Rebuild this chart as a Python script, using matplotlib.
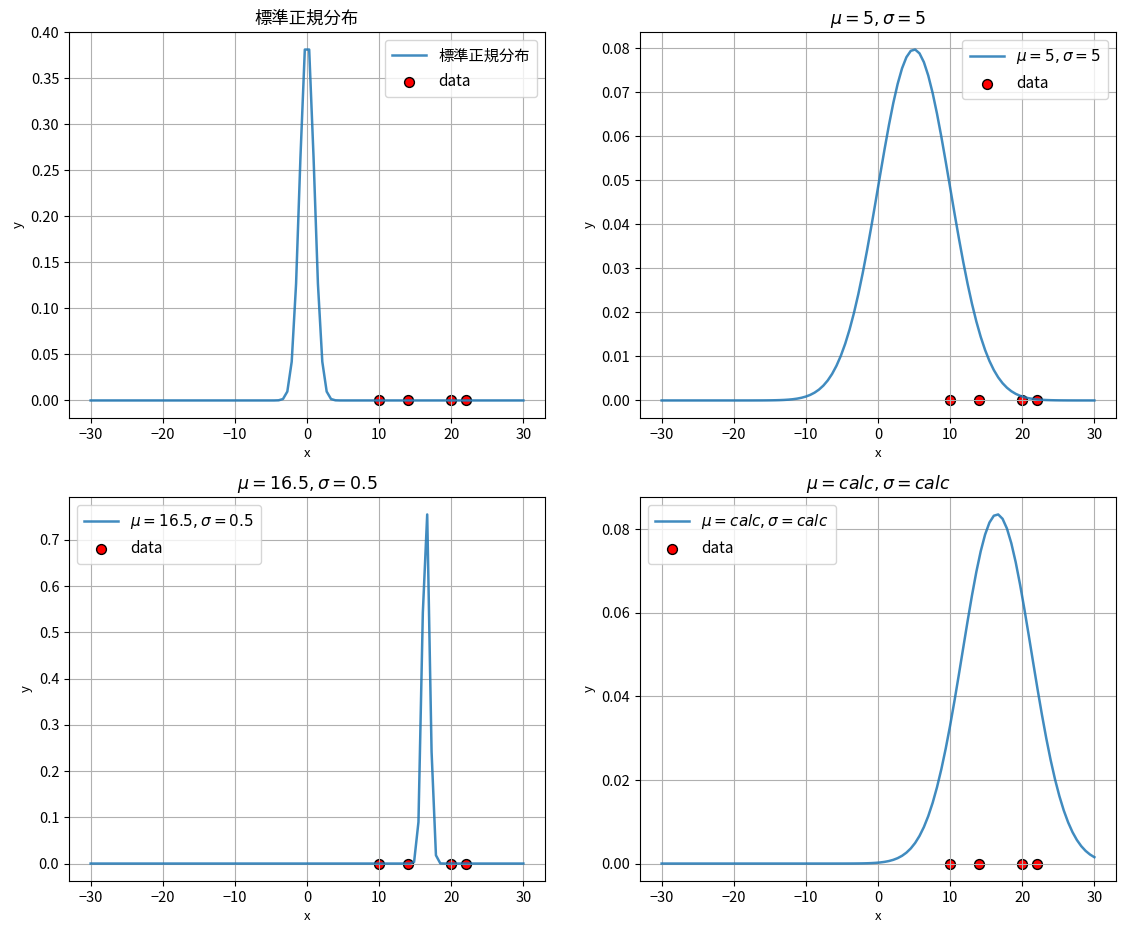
import numpy as np
import matplotlib
matplotlib.use("Agg")
import matplotlib.pyplot as plt

plt.rcParams['font.family'] = ['Noto Sans CJK JP', 'DejaVu Sans']
plt.rcParams['axes.unicode_minus'] = True

# data points
data_x = [10, 14, 20, 22]
data_y = [0, 0, 0, 0]

# distribution parameters per panel
titles = ['標準正規分布', r'$\mu=5,\sigma=5$', r'$\mu=16.5,\sigma=0.5$', r'$\mu=calc,\sigma=calc$']
mus = [0.0, 5.0, 16.5, float(np.mean(data_x))]
sigmas = [1.0, 5.0, 0.5, float(np.std(data_x))]

x = np.linspace(-30, 30, 100)

def pdf(x, mu, s):
    return np.exp(-(x - mu) ** 2 / (2 * s * s)) / (np.sqrt(2 * np.pi) * s)

fig = plt.figure(figsize=(11.26, 9.35), dpi=100)
W, H = 1126, 935
boxes = [(69, 32, 545, 418), (640, 32, 1116, 418), (69, 497, 545, 881), (640, 497, 1116, 881)]
locs = ['upper right', 'upper right', 'upper left', 'upper left']
yticks = [np.arange(0, 0.401, 0.05), np.arange(0, 0.081, 0.01), np.arange(0, 0.71, 0.1), np.arange(0, 0.081, 0.02)]
fmts = ['{:.2f}', '{:.2f}', '{:.1f}', '{:.2f}']

for i in range(4):
    l, t, r, b = boxes[i]
    ax = fig.add_axes([l / W, 1 - b / H, (r - l) / W, (b - t) / H])
    y = pdf(x, mus[i], sigmas[i])
    ax.plot(x, y, color='#1f77b4', alpha=0.85, lw=1.8, label=titles[i], zorder=2)
    ax.scatter(data_x, data_y, c='red', edgecolors='black', s=50, label='data', zorder=1)
    ax.set_title(titles[i], fontsize=12.5)
    ax.set_xlabel('x', fontsize=9.5)
    ax.set_ylabel('y', fontsize=9.5)
    ax.set_xticks([-30, -20, -10, 0, 10, 20, 30])
    ax.set_yticks(yticks[i])
    ax.set_yticklabels([fmts[i].format(v) for v in yticks[i]])
    ax.tick_params(labelsize=10.5)
    ax.grid(True, color='#b0b0b0', lw=0.8)
    ax.legend(loc=locs[i], fontsize=11, handlelength=2.2, labelspacing=0.55, borderpad=0.5)

fig.savefig('out.png', dpi=100)
